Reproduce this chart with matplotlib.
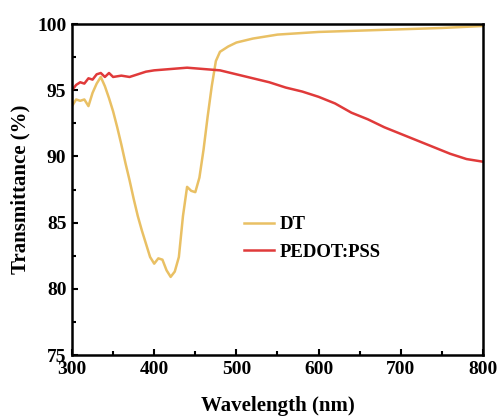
import matplotlib
matplotlib.use("Agg")
import matplotlib.pyplot as plt
from matplotlib.ticker import MultipleLocator

plt.rcParams['font.family'] = ['Liberation Serif', 'DejaVu Serif']
plt.rcParams['font.weight'] = 'bold'

dt_wl = [300, 305, 310, 315, 320, 325, 330, 335, 340, 345, 350, 355, 360, 365, 370,
         375, 380, 385, 390, 395, 400, 405, 410, 415, 420, 425, 430, 435, 440, 445,
         450, 455, 460, 465, 470, 475, 480, 490, 500, 520, 550, 600, 650, 700, 750, 800]
dt_t = [93.8, 94.3, 94.2, 94.3, 93.8, 94.8, 95.5, 96.0, 95.3, 94.4, 93.4, 92.2, 90.9,
        89.5, 88.2, 86.8, 85.5, 84.4, 83.4, 82.4, 81.9, 82.3, 82.2, 81.4, 80.9, 81.3,
        82.4, 85.5, 87.7, 87.4, 87.3, 88.4, 90.5, 93.0, 95.3, 97.2, 97.9, 98.3, 98.6,
        98.9, 99.2, 99.4, 99.5, 99.6, 99.7, 99.85]

pe_wl = [300, 305, 310, 315, 320, 325, 330, 335, 340, 345, 350, 360, 370, 380, 390,
         400, 420, 440, 460, 480, 500, 520, 540, 560, 580, 600, 620, 640, 660, 680,
         700, 720, 740, 760, 780, 800]
pe_t = [95.0, 95.4, 95.6, 95.5, 95.9, 95.8, 96.2, 96.3, 96.0, 96.3, 96.0, 96.1, 96.0,
        96.2, 96.4, 96.5, 96.6, 96.7, 96.6, 96.5, 96.2, 95.9, 95.6, 95.2, 94.9, 94.5,
        94.0, 93.3, 92.8, 92.2, 91.7, 91.2, 90.7, 90.2, 89.8, 89.6]

fig = plt.figure(figsize=(4.97, 4.16), dpi=100)
ax = fig.add_axes([0.1449, 0.1466, 0.8269, 0.7957])

ax.plot(dt_wl, dt_t, color='#E9C064', lw=1.8, label='DT')
ax.plot(pe_wl, pe_t, color='#E03A3A', lw=1.8, label='PEDOT:PSS')

ax.set_xlim(300, 800)
ax.set_ylim(75, 100)
ax.xaxis.set_major_locator(MultipleLocator(100))
ax.xaxis.set_minor_locator(MultipleLocator(50))
ax.yaxis.set_major_locator(MultipleLocator(5))
ax.yaxis.set_minor_locator(MultipleLocator(2.5))
ax.tick_params(which='both', direction='in', width=1.5, labelsize=14, top=False, right=False)
ax.tick_params(which='major', length=4, pad=4)
ax.tick_params(which='minor', length=3)
for s in ax.spines.values():
    s.set_linewidth(1.8)
for lab in ax.get_xticklabels() + ax.get_yticklabels():
    lab.set_fontweight('bold')

ax.set_xlabel('Wavelength (nm)', fontsize=15, fontweight='bold', labelpad=13)
ax.set_ylabel('Transmittance (%)', fontsize=15, fontweight='bold', labelpad=5)

ax.legend(loc='center left', bbox_to_anchor=(0.418, 0.352), frameon=False,
          prop={'size': 13.5, 'weight': 'bold'}, handlelength=1.6,
          handletextpad=0.3, labelspacing=0.55, borderaxespad=0, borderpad=0)

fig.savefig('out.png', dpi=100)
